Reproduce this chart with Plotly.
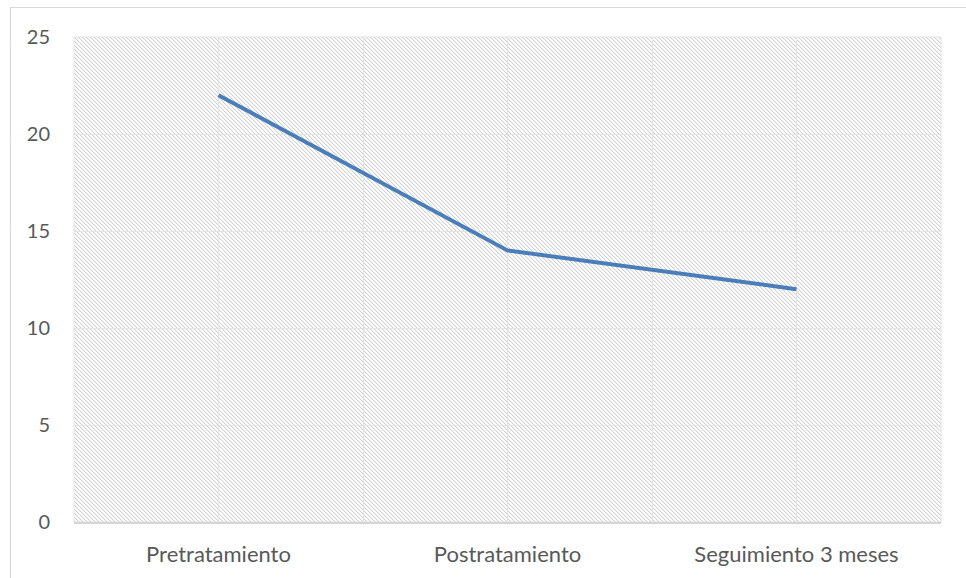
import base64
import plotly.graph_objects as go

categories = ["Pretratamiento", "Postratamiento", "Seguimiento 3 meses"]
values = [22, 14, 12]
y_ticks = [0, 5, 10, 15, 20, 25]

W, H = 966, 578
L, R, T, B = 74, 25, 37, 56
pw, ph = W - L - R, H - T - B

svg = (
    f'<svg xmlns="http://www.w3.org/2000/svg" width="{pw}" height="{ph}" shape-rendering="crispEdges">'
    '<defs><pattern id="p" width="4" height="4" patternUnits="userSpaceOnUse">'
    '<rect width="4" height="4" fill="#ffffff"/>'
    '<rect x="0" y="0" width="1" height="1" fill="#d3d3d3"/>'
    '<rect x="1" y="1" width="1" height="1" fill="#d3d3d3"/>'
    '<rect x="2" y="2" width="1" height="1" fill="#d3d3d3"/>'
    '<rect x="3" y="3" width="1" height="1" fill="#d3d3d3"/>'
    '<rect x="1" y="0" width="1" height="1" fill="#f0f0f0"/>'
    '<rect x="2" y="1" width="1" height="1" fill="#f0f0f0"/>'
    '<rect x="3" y="2" width="1" height="1" fill="#f0f0f0"/>'
    '<rect x="0" y="3" width="1" height="1" fill="#f0f0f0"/>'
    '</pattern></defs>'
    f'<rect width="{pw}" height="{ph}" fill="url(#p)"/></svg>'
)
src = "data:image/svg+xml;base64," + base64.b64encode(svg.encode()).decode()

xs = list(range(len(categories)))
fig = go.Figure()
fig.add_trace(go.Scatter(
    x=xs, y=values, mode="lines",
    line=dict(color="#4A7EBB", width=4),
    showlegend=False, hoverinfo="skip",
))

fam = "Lato, Carlito, Calibri, sans-serif"
xfont = dict(family=fam, size=22, color="#595959")
yfont = dict(family=fam, size=20, color="#595959")

fig.update_layout(
    width=W, height=H,
    margin=dict(l=L, r=R, t=T, b=B),
    paper_bgcolor="white", plot_bgcolor="white",
    font=xfont,
    showlegend=False,
    images=[dict(source=src, xref="paper", yref="paper", x=0, y=1,
                 sizex=1, sizey=1, sizing="stretch", layer="below",
                 xanchor="left", yanchor="top")],
    shapes=[dict(type="rect", xref="paper", yref="paper",
                 x0=(10.5 - L) / pw, x1=(W + 20 - L) / pw,
                 y0=-(H + 20 - T - ph) / ph, y1=(T + ph - 7.5) / ph,
                 line=dict(color="#d9d9d9", width=1.2), fillcolor="rgba(0,0,0,0)",
                 layer="below")],
)

fig.update_xaxes(
    range=[-0.5, len(categories) - 0.5],
    tickvals=xs, ticktext=categories,
    showgrid=True, gridcolor="#e3e3e3", gridwidth=1,
    minor=dict(tickvals=[0.5, 1.5], showgrid=True, gridcolor="#e3e3e3", gridwidth=1),
    showline=True, linecolor="#d4d4d4", linewidth=1.5, mirror=False,
    ticks="", zeroline=False, fixedrange=True,
    tickfont=xfont, ticklabelstandoff=12,
)
fig.update_yaxes(
    range=[0, 25],
    tickvals=y_ticks,
    showgrid=True, gridcolor="#e3e3e3", gridwidth=1,
    showline=False, ticks="", zeroline=False, fixedrange=True,
    tickfont=yfont, ticklabelstandoff=23,
)
fig.add_shape(type="rect", xref="paper", yref="paper", x0=0, x1=1, y0=0, y1=1,
              line=dict(color="#e3e3e3", width=1), layer="below")

fig.write_html("out.html", config={"displayModeBar": False},
               post_script="document.body.style.margin='0';document.body.style.overflow='hidden';")
